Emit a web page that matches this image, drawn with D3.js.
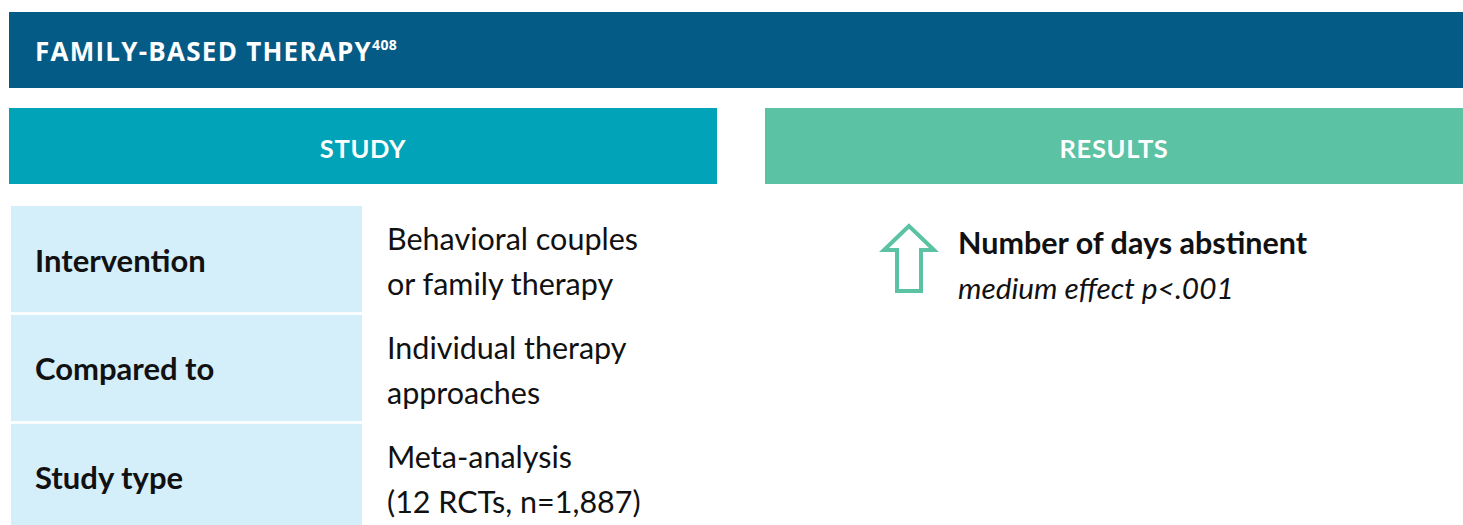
<!DOCTYPE html>
<html><head><meta charset="utf-8">
<script src="https://cdn.jsdelivr.net/npm/d3@7"></script>
<style>html,body{margin:0;padding:0;background:#fff;overflow:hidden}</style>
</head><body>
<svg id="c" width="1463" height="525"></svg>
<script>
const title = "FAMILY-BASED THERAPY";
const titleRef = "408";
const sectionHeaders = ["STUDY", "RESULTS"];
const rowLabels = ["Intervention", "Compared to", "Study type"];
const rowValues = [
  ["Behavioral couples", "or family therapy"],
  ["Individual therapy", "approaches"],
  ["Meta-analysis", "(12 RCTs, n=1,887)"]
];
const resultTitles = ["Number of days abstinent"];
const resultSubtitles = ["medium effect p<.001"];
const resultDirections = ["up"];

const colors = {header:"#045b86", study:"#00a3b8", results:"#5bc2a4", cell:"#d4eefa", text:"#111"};
const svg = d3.select("#c");

// Header bar
svg.append("rect").attr("x",9).attr("y",12).attr("width",1454).attr("height",76).attr("fill",colors.header);
const t = svg.append("text").attr("x",35).attr("y",61)
  .attr("font-family","'Open Sans', sans-serif").attr("font-weight",700)
  .attr("font-size",26).attr("letter-spacing",1.25).attr("fill","#fff");
t.append("tspan").text(title);
t.append("tspan").attr("font-size",14).attr("dy",-11).attr("letter-spacing",0.3).text(titleRef);

// Section headers
const secX = d3.scaleOrdinal().domain(sectionHeaders).range([9,765]);
const secW = d3.scaleOrdinal().domain(sectionHeaders).range([708,698]);
const secC = d3.scaleOrdinal().domain(sectionHeaders).range([colors.study, colors.results]);
const sec = svg.selectAll("g.sec").data(sectionHeaders).join("g").attr("class","sec");
sec.append("rect").attr("x",d=>secX(d)).attr("y",108).attr("width",d=>secW(d)).attr("height",76).attr("fill",d=>secC(d));
sec.append("text").attr("x",d=>secX(d)+secW(d)/2).attr("y",157.5).attr("text-anchor","middle")
  .attr("font-family","Lato, sans-serif").attr("font-weight",700).attr("font-size",25.5)
  .attr("letter-spacing",0.7).attr("fill","#fff").text(d=>d);

// Table rows
const rowY = d3.scaleBand().domain(rowLabels).range([206, 530]).paddingInner(0.025).paddingOuter(0);
const rows = svg.selectAll("g.row").data(rowLabels).join("g").attr("class","row");
rows.append("rect").attr("x",11).attr("y",d=>rowY(d)).attr("width",351).attr("height",rowY.bandwidth()).attr("fill",colors.cell);
rows.append("text").attr("x",35).attr("y",d=>rowY(d)+65.5)
  .attr("font-family","Lato, sans-serif").attr("font-weight",700).attr("font-size",31).attr("fill",colors.text).text(d=>d);
rows.each(function(d,i){
  const g = d3.select(this);
  g.selectAll("text.v").data(rowValues[i]).join("text").attr("class","v")
    .attr("x",387).attr("y",(v,j)=>rowY(d)+44+j*45)
    .attr("font-family","Lato, sans-serif").attr("font-weight",400).attr("font-size",30.5).attr("fill",colors.text).text(v=>v);
});

// Results
const res = svg.selectAll("g.res").data(resultTitles).join("g").attr("class","res");
const arrowUp = "M909,226 L884,250 L897,250 L897,291 L921,291 L921,250 L934,250 Z";
res.append("path").attr("d",arrowUp).attr("fill","none").attr("stroke",colors.results).attr("stroke-width",4).attr("stroke-linejoin","miter");
res.append("text").attr("x",958).attr("y",254)
  .attr("font-family","Lato, sans-serif").attr("font-weight",700).attr("font-size",30.5).attr("fill",colors.text).text(d=>d);
res.append("text").attr("x",958).attr("y",299)
  .attr("font-family","Lato, sans-serif").attr("font-style","italic").attr("font-size",29.8).attr("fill",colors.text).text((d,i)=>resultSubtitles[i]);
</script>
</body></html>
